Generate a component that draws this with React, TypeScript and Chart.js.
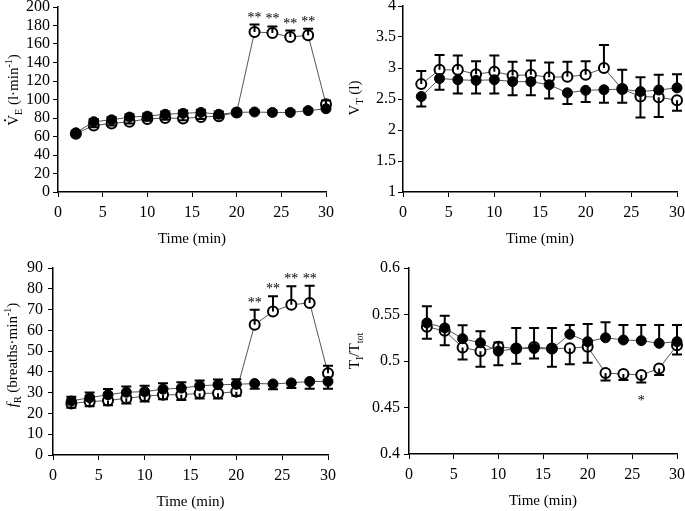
import React, { useEffect, useRef } from 'react';
import { Chart, registerables } from 'chart.js';

Chart.register(...registerables);

// ---------------- DATA ----------------
const time = [2, 4, 6, 8, 10, 12, 14, 16, 18, 20, 22, 24, 26, 28, 30];
const xTicks = [0, 5, 10, 15, 20, 25, 30];

// Panel A: V̇E (l·min-1)
const veTicks = [0, 20, 40, 60, 80, 100, 120, 140, 160, 180, 200];
const veFilled = [64, 76, 78, 81, 82, 84, 85, 86, 84, 86, 86.5, 86, 86, 88, 90];
const veFilledUp = [2, 3, 3, 3, 3, 3, 3, 3, 3, 2, 2, 2, 2, 2, 2];
const veFilledDown = [0, 0, 0, 0, 0, 0, 0, 0, 0, 0, 0, 0, 0, 0, 0];
const veOpen = [63, 72, 74, 76, 79, 80, 79.5, 81, 82, 86, 173, 172, 167.5, 169.5, 95];
const veOpenUp = [0, 0, 0, 0, 0, 0, 0, 0, 0, 0, 8, 7, 7, 7, 4];
const veOpenDown = [2, 2, 2, 2, 2, 2, 2, 2, 2, 2, 0, 0, 0, 0, 0];
const veSig = [22, 24, 26, 28];

// Panel B: VT (l)
const vtTicks = [1, 1.5, 2, 2.5, 3, 3.5, 4];
const vtFilled = [2.54, 2.83, 2.81, 2.8, 2.81, 2.78, 2.78, 2.73, 2.6, 2.64, 2.65, 2.66, 2.62, 2.645, 2.68];
const vtFilledUp = [0, 0, 0, 0, 0, 0, 0, 0, 0, 0, 0, 0, 0.23, 0.245, 0.22];
const vtFilledDown = [0.16, 0.18, 0.22, 0.21, 0.22, 0.22, 0.22, 0.22, 0.18, 0.19, 0.21, 0.22, 0, 0, 0];
const vtOpen = [2.74, 2.97, 2.97, 2.9, 2.94, 2.88, 2.89, 2.85, 2.86, 2.89, 3.0, 2.66, 2.54, 2.53, 2.48];
const vtOpenUp = [0.21, 0.24, 0.23, 0.21, 0.26, 0.22, 0.23, 0.24, 0.24, 0.22, 0.37, 0.31, 0, 0, 0];
const vtOpenDown = [0, 0, 0, 0, 0, 0, 0, 0, 0, 0, 0, 0, 0.34, 0.32, 0.17];
const vtSig: number[] = [];

// Panel C: fR (breaths·min-1)
const frTicks = [0, 10, 20, 30, 40, 50, 60, 70, 80, 90];
const frFilled = [26, 27.6, 29, 30.2, 30.5, 31.7, 32.2, 33.3, 33.8, 34, 34.4, 34.2, 34.7, 35.4, 35.4];
const frFilledUp = [2, 2.5, 2.8, 2.8, 2.8, 2.8, 2.8, 2.5, 2.5, 2.5, 0, 0, 0, 0, 0];
const frFilledDown = [0, 0, 0, 0, 0, 0, 0, 0, 0, 0, 2.5, 2.5, 2.5, 3.5, 3.5];
const frOpen = [24.8, 25.7, 26.2, 27.3, 28.3, 29, 29, 29.7, 29.7, 30.5, 62.7, 69.1, 72.3, 73.2, 39.4];
const frOpenUp = [0, 0, 0, 0, 0, 0, 0, 0, 0, 0, 7.2, 7.3, 8.9, 8.3, 3.5];
const frOpenDown = [2, 2.2, 2.2, 2.5, 2.5, 2.2, 2.5, 2.5, 2.5, 2, 0, 0, 0, 0, 0];
const frSig = [22, 24, 26, 28];

// Panel D: TI/Ttot
const tiTicks = [0.4, 0.45, 0.5, 0.55, 0.6];
const tiFilled = [0.541, 0.5356, 0.524, 0.5195, 0.5106, 0.5134, 0.5134, 0.513, 0.5287, 0.5208, 0.525, 0.5226, 0.5219, 0.519, 0.5208];
const tiFilledUp = [0.018, 0.013, 0.0145, 0.0125, 0.0094, 0.022, 0.022, 0.0226, 0.01, 0.019, 0.0166, 0.016, 0.0168, 0.0197, 0.018];
const tiFilledDown = [0, 0, 0, 0, 0, 0, 0, 0, 0, 0, 0, 0, 0, 0, 0];
const tiOpen = [0.5367, 0.5324, 0.5145, 0.5106, 0.5152, 0.5134, 0.515, 0.5134, 0.5137, 0.5154, 0.487, 0.486, 0.485, 0.492, 0.517];
const tiOpenUp = [0, 0, 0, 0, 0, 0, 0, 0, 0, 0, 0, 0, 0, 0, 0];
const tiOpenDown = [0.0127, 0.0154, 0.0129, 0.0169, 0.0197, 0.0164, 0.0123, 0.0197, 0.0173, 0.0172, 0.008, 0.0063, 0.0082, 0.007, 0.01];
const tiSig = [26];

// ---------------- RENDERING ----------------
const FONT = '"Liberation Serif", "Times New Roman", serif';

type Seg = { t: string; sub?: boolean; sup?: boolean; it?: boolean; dot?: boolean };

type PanelCfg = {
  area: { l: number; t: number; r: number; b: number };
  yTicks: number[];
  yPad: number;
  title: Seg[];
  titleX: number;
  titleY: number;
  filled: number[];
  filledUp: number[];
  filledDown: number[];
  open: number[];
  openUp: number[];
  openDown: number[];
  sig: number[];
  sigText: string;
  sigBelow: boolean;
};

const PADL = 70;
const PADT = 20;
const PADR = 20;
const XAXH = 60;

const fmt = (v: number) => String(Number(v.toFixed(4)));

function drawRich(ctx: CanvasRenderingContext2D, segs: Seg[], cx: number, cy: number, size: number) {
  ctx.save();
  ctx.translate(cx, cy);
  ctx.rotate(-Math.PI / 2);
  ctx.textBaseline = 'alphabetic';
  ctx.textAlign = 'left';
  ctx.fillStyle = '#000';
  const fontFor = (s: Seg) => `${s.it ? 'italic ' : ''}${s.sub || s.sup ? Math.round(size * 0.68) : size}px ${FONT}`;
  let total = 0;
  for (const s of segs) {
    ctx.font = fontFor(s);
    total += ctx.measureText(s.t).width;
  }
  let x = -total / 2;
  const base = size * 0.33;
  for (const s of segs) {
    ctx.font = fontFor(s);
    const w = ctx.measureText(s.t).width;
    const dy = s.sub ? size * 0.28 : s.sup ? -size * 0.42 : 0;
    ctx.fillText(s.t, x, base + dy);
    if (s.dot) {
      ctx.beginPath();
      ctx.arc(x + w / 2, base - size * 0.86, size * 0.075, 0, Math.PI * 2);
      ctx.fill();
    }
    x += w;
  }
  ctx.restore();
}

function Panel({ cfg }: { cfg: PanelCfg }) {
  const ref = useRef<HTMLCanvasElement | null>(null);
  const { area } = cfg;
  const cl = area.l - PADL;
  const ct = area.t - PADT;
  const cw = area.r - area.l + PADL + PADR;
  const ch = area.b - area.t + PADT + XAXH;

  useEffect(() => {
    if (!ref.current) return;
    const errs = [
      { vals: cfg.filled, up: cfg.filledUp, down: cfg.filledDown },
      { vals: cfg.open, up: cfg.openUp, down: cfg.openDown },
    ];
    const overlay = {
      id: 'overlay',
      afterDatasetsDraw(chart: any) {
        const ctx: CanvasRenderingContext2D = chart.ctx;
        const xs = chart.scales.x;
        const ys = chart.scales.y;
        ctx.save();
        ctx.strokeStyle = '#000';
        ctx.lineWidth = 2;
        const cap = 5;
        for (const e of [errs[1], errs[0]]) {
          time.forEach((t, i) => {
            const px = xs.getPixelForValue(t);
            const py = ys.getPixelForValue(e.vals[i]);
            for (const d of [e.up[i], -e.down[i]]) {
              if (!d) continue;
              const ey = ys.getPixelForValue(e.vals[i] + d);
              ctx.beginPath();
              ctx.moveTo(px, py);
              ctx.lineTo(px, ey);
              ctx.moveTo(px - cap, ey);
              ctx.lineTo(px + cap, ey);
              ctx.stroke();
            }
          });
        }
        ctx.restore();
      },
      afterDraw(chart: any) {
        const ctx: CanvasRenderingContext2D = chart.ctx;
        const xs = chart.scales.x;
        const ys = chart.scales.y;
        ctx.save();
        ctx.fillStyle = '#000';
        ctx.font = `14px ${FONT}`;
        ctx.textAlign = 'center';
        ctx.textBaseline = 'alphabetic';
        cfg.sig.forEach((t) => {
          const i = time.indexOf(t);
          const px = xs.getPixelForValue(t);
          if (cfg.sigBelow) {
            const v = cfg.open[i] - cfg.openDown[i];
            ctx.fillText(cfg.sigText, px, ys.getPixelForValue(v) + 22);
          } else {
            const v = cfg.open[i] + cfg.openUp[i];
            ctx.fillText(cfg.sigText, px, ys.getPixelForValue(v) - 3);
          }
        });
        ctx.restore();
        drawRich(ctx, cfg.title, cfg.titleX - cl, cfg.titleY - ct, 15);
      },
    };

    const tickFont = { family: FONT, size: 16 };
    const yTicks = cfg.yTicks;
    const chart = new Chart(ref.current, {
      type: 'line',
      data: {
        datasets: [
          {
            label: 'filled',
            data: time.map((t, i) => ({ x: t, y: cfg.filled[i] })),
            borderColor: '#555',
            borderWidth: 1,
            pointRadius: 5,
            pointBackgroundColor: '#000',
            pointBorderColor: '#000',
            pointBorderWidth: 1,
            tension: 0,
            clip: false,
          },
          {
            label: 'open',
            data: time.map((t, i) => ({ x: t, y: cfg.open[i] })),
            borderColor: '#555',
            borderWidth: 1,
            pointRadius: 5,
            pointBackgroundColor: '#fff',
            pointBorderColor: '#000',
            pointBorderWidth: 2,
            tension: 0,
            clip: false,
          },
        ],
      },
      options: {
        animation: false,
        responsive: false,
        devicePixelRatio: 1,
        layout: { padding: { left: 0, top: PADT, right: PADR, bottom: 0 } },
        plugins: { legend: { display: false }, tooltip: { enabled: false } },
        scales: {
          x: {
            type: 'linear',
            min: xTicks[0],
            max: xTicks[xTicks.length - 1],
            afterFit: (s: any) => {
              s.height = XAXH;
            },
            afterBuildTicks: (s: any) => {
              s.ticks = xTicks.map((v) => ({ value: v }));
            },
            grid: { display: true, drawOnChartArea: false, drawTicks: true, tickLength: 5, color: '#000', lineWidth: 1 },
            border: { display: true, color: '#000', width: 1.5 },
            ticks: { color: '#000', font: tickFont, padding: 6, maxRotation: 0, autoSkip: false, callback: (v: any) => fmt(Number(v)) },
            title: { display: true, text: 'Time (min)', color: '#000', font: { family: FONT, size: 15 }, padding: { top: 0, bottom: 4 } },
          },
          y: {
            type: 'linear',
            min: yTicks[0],
            max: yTicks[yTicks.length - 1],
            afterFit: (s: any) => {
              s.width = PADL;
            },
            afterBuildTicks: (s: any) => {
              s.ticks = yTicks.map((v) => ({ value: v }));
            },
            grid: { display: true, drawOnChartArea: false, drawTicks: true, tickLength: 5, color: '#000', lineWidth: 1 },
            border: { display: true, color: '#000', width: 1.5 },
            ticks: { color: '#000', font: tickFont, padding: cfg.yPad, autoSkip: false, callback: (v: any) => fmt(Number(v)) },
          },
        },
      },
      plugins: [overlay],
    } as any);
    return () => chart.destroy();
  }, []);

  return (
    <canvas
      ref={ref}
      width={cw}
      height={ch}
      style={{ position: 'absolute', left: cl, top: ct, width: cw, height: ch }}
    />
  );
}

const panels: PanelCfg[] = [
  {
    area: { l: 58, t: 7, r: 326, b: 192 },
    yTicks: veTicks, yPad: 3,
    title: [{ t: 'V', dot: true }, { t: 'E', sub: true }, { t: ' (l·min' }, { t: '-1', sup: true }, { t: ')' }],
    titleX: 13, titleY: 90,
    filled: veFilled, filledUp: veFilledUp, filledDown: veFilledDown,
    open: veOpen, openUp: veOpenUp, openDown: veOpenDown,
    sig: veSig, sigText: '**', sigBelow: false,
  },
  {
    area: { l: 403, t: 6, r: 677, b: 192 },
    yTicks: vtTicks, yPad: 2,
    title: [{ t: 'V' }, { t: 'T', sub: true }, { t: ' (l)' }],
    titleX: 354, titleY: 98,
    filled: vtFilled, filledUp: vtFilledUp, filledDown: vtFilledDown,
    open: vtOpen, openUp: vtOpenUp, openDown: vtOpenDown,
    sig: vtSig, sigText: '*', sigBelow: false,
  },
  {
    area: { l: 53, t: 268, r: 328, b: 455 },
    yTicks: frTicks, yPad: 5,
    title: [{ t: 'f', it: true }, { t: 'R', sub: true }, { t: ' (breaths·min' }, { t: '-1', sup: true }, { t: ')' }],
    titleX: 12, titleY: 355,
    filled: frFilled, filledUp: frFilledUp, filledDown: frFilledDown,
    open: frOpen, openUp: frOpenUp, openDown: frOpenDown,
    sig: frSig, sigText: '**', sigBelow: false,
  },
  {
    area: { l: 409, t: 268, r: 677, b: 454 },
    yTicks: tiTicks, yPad: 4,
    title: [{ t: 'T' }, { t: 'I', sub: true }, { t: '/T' }, { t: 'tot', sub: true }],
    titleX: 354, titleY: 351,
    filled: tiFilled, filledUp: tiFilledUp, filledDown: tiFilledDown,
    open: tiOpen, openUp: tiOpenUp, openDown: tiOpenDown,
    sig: tiSig, sigText: '*', sigBelow: true,
  },
];

export default function App() {
  return (
    <div
      style={{
        position: 'absolute',
        left: 0,
        top: 0,
        width: 685,
        height: 511,
        overflow: 'hidden',
        background: '#fff',
      }}
    >
      {panels.map((p, i) => (
        <Panel key={i} cfg={p} />
      ))}
    </div>
  );
}
